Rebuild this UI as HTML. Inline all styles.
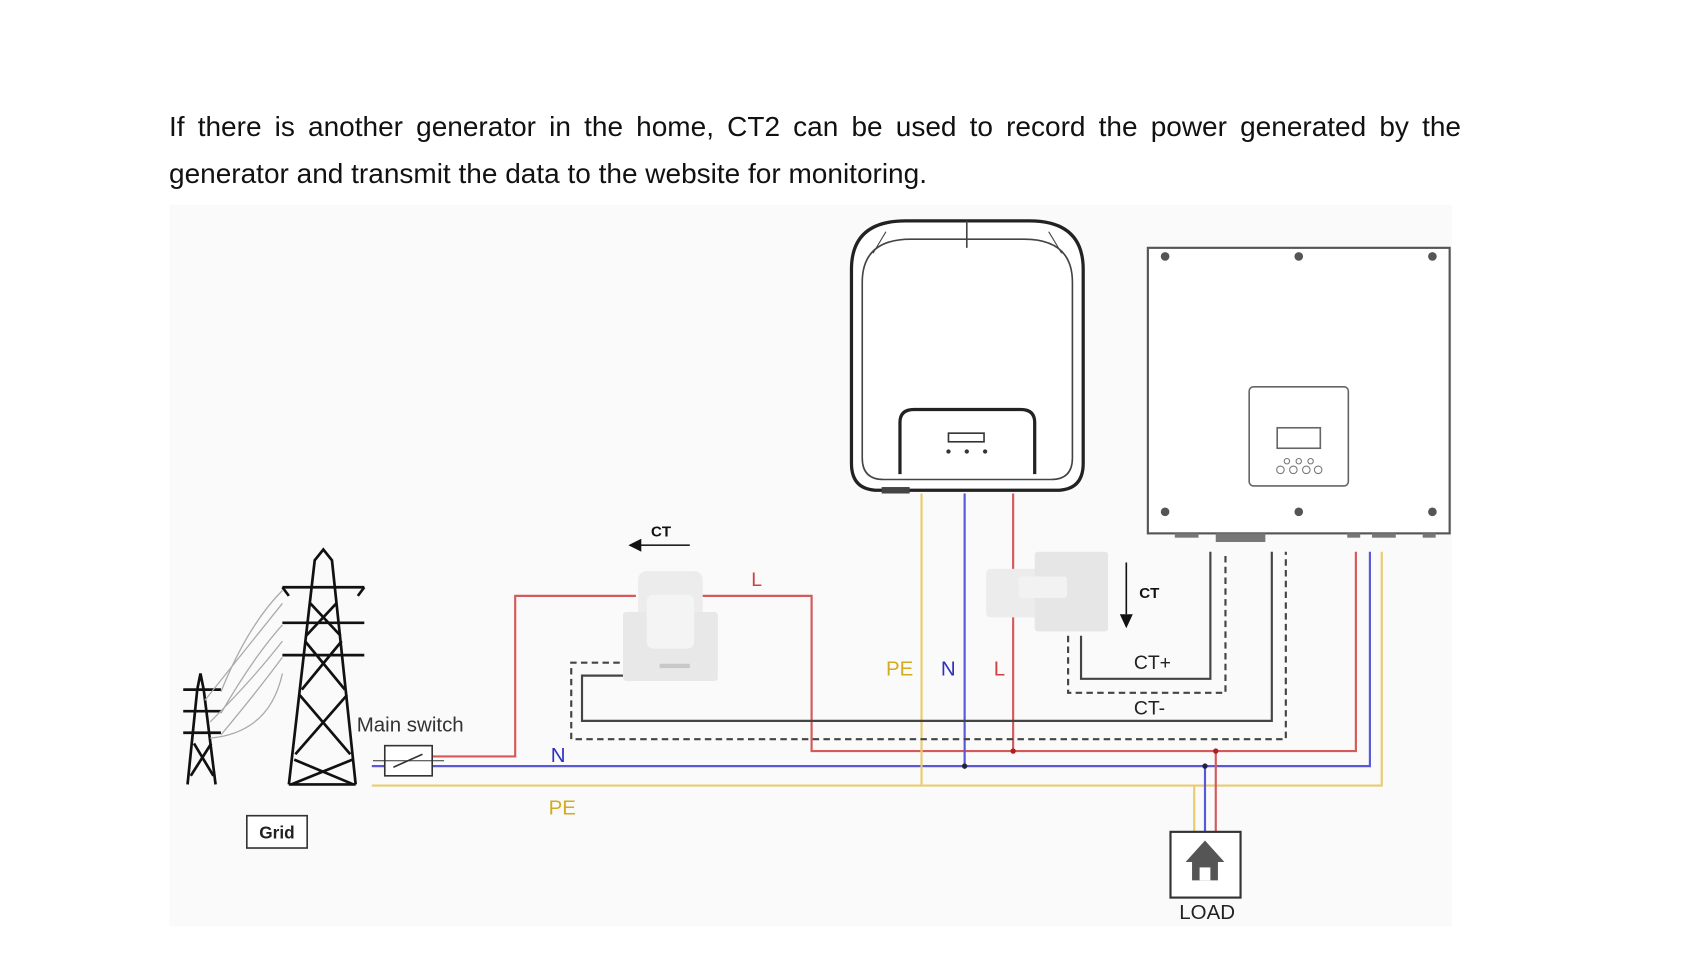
<!DOCTYPE html>
<html><head><meta charset="utf-8"><style>
html,body{margin:0;padding:0;background:#fff;width:1690px;height:959px;overflow:hidden;position:relative}
svg{display:block;position:absolute;left:0;top:0}
text{font-family:"Liberation Sans",Arial,sans-serif}
.t{position:absolute;left:169px;width:1292px;font-family:"Liberation Sans",Arial,sans-serif;font-size:28px;line-height:47px;color:#111;z-index:2;white-space:nowrap}
.j{text-align:justify;text-align-last:justify;white-space:normal}
</style></head><body>
<svg width="1690" height="959" viewBox="0 0 1568 890" preserveAspectRatio="none" xmlns="http://www.w3.org/2000/svg">
<rect width="1568" height="890" fill="#fff"/>
<rect x="157" y="190" width="1190" height="670" fill="#fafafa"/>

<!-- Inverter 1 -->
<path d="M790,250 Q790,205 840,205 L955,205 Q1005,205 1005,250 L1005,430 Q1005,455 980,455 L815,455 Q790,455 790,430 Z" fill="#fff" stroke="#222" stroke-width="3"/>
<path d="M800,262 Q800,222 845,222 L950,222 Q995,222 995,262 L995,425 Q995,445 975,445 L820,445 Q800,445 800,425 Z" fill="none" stroke="#444" stroke-width="1.5"/>
<line x1="897" y1="205" x2="897" y2="230" stroke="#444" stroke-width="1.5"/>
<line x1="810" y1="235" x2="822" y2="215" stroke="#444"/><line x1="985" y1="235" x2="973" y2="215" stroke="#444"/>
<path d="M835,440 L835,392 Q835,380 848,380 L947,380 Q960,380 960,392 L960,440" fill="#fff" stroke="#222" stroke-width="3"/>
<rect x="880" y="402" width="33" height="8" fill="none" stroke="#333" stroke-width="1.5"/>
<circle cx="880" cy="419" r="2" fill="#333"/><circle cx="897" cy="419" r="2" fill="#333"/><circle cx="914" cy="419" r="2" fill="#333"/>
<rect x="818" y="452" width="26" height="6" fill="#444"/>

<!-- Inverter 2 -->
<rect x="1065" y="230" width="280" height="265" fill="#fff" stroke="#555" stroke-width="2"/>
<g fill="#555"><circle cx="1081" cy="238" r="4"/><circle cx="1205" cy="238" r="4"/><circle cx="1329" cy="238" r="4"/>
<circle cx="1081" cy="475" r="4"/><circle cx="1205" cy="475" r="4"/><circle cx="1329" cy="475" r="4"/></g>
<rect x="1159" y="359" width="92" height="92" rx="4" fill="#fff" stroke="#666" stroke-width="1.5"/>
<rect x="1185" y="397" width="40" height="19" fill="none" stroke="#666" stroke-width="1.5"/>
<g fill="none" stroke="#777"><circle cx="1194" cy="428" r="2.5"/><circle cx="1205" cy="428" r="2.5"/><circle cx="1216" cy="428" r="2.5"/>
<circle cx="1188" cy="436" r="3.5"/><circle cx="1200" cy="436" r="3.5"/><circle cx="1212" cy="436" r="3.5"/><circle cx="1223" cy="436" r="3.5"/></g>
<g fill="#777"><rect x="1090" y="495" width="22" height="4"/><rect x="1128" y="495" width="46" height="8"/><rect x="1250" y="495" width="12" height="4"/><rect x="1273" y="495" width="22" height="4"/><rect x="1320" y="495" width="12" height="4"/></g>

<!-- wires -->
<g fill="none" stroke-width="2">
<polyline points="401,702 478,702 478,553 590,553" stroke="#d45a5a"/>
<polyline points="650,553 753,553 753,697 1258,697 1258,512" stroke="#d45a5a"/>
<polyline points="345,711 1271,711 1271,512" stroke="#5858d8"/>
<polyline points="345,729 1282,729 1282,512" stroke="#e8cc70"/>
<line x1="855" y1="458" x2="855" y2="729" stroke="#e8cc70"/>
<line x1="895" y1="458" x2="895" y2="711" stroke="#5858d8"/>
<line x1="940" y1="458" x2="940" y2="697" stroke="#d45a5a"/>
<line x1="1108" y1="729" x2="1108" y2="772" stroke="#e8cc70"/>
<line x1="1118" y1="711" x2="1118" y2="772" stroke="#5858d8"/>
<line x1="1128" y1="697" x2="1128" y2="772" stroke="#d45a5a"/>
<polyline points="578,627 540,627 540,669 1180,669 1180,512" stroke="#444"/>
<polyline points="1003,590 1003,630 1123,630 1123,512" stroke="#444"/>
<polyline points="575,615 530,615 530,686 1193,686 1193,512" stroke="#444" stroke-dasharray="6,4"/>
<polyline points="991,590 991,643 1137,643 1137,512" stroke="#444" stroke-dasharray="6,4"/>
</g>
<circle cx="895" cy="711" r="2.5" fill="#224"/><circle cx="940" cy="697" r="2.5" fill="#a22"/><circle cx="1118" cy="711" r="2.5" fill="#224"/><circle cx="1128" cy="697" r="2.5" fill="#a22"/>

<!-- CT1 clamp -->
<rect x="592" y="530" width="60" height="75" rx="8" fill="#ececec"/>
<rect x="578" y="568" width="88" height="64" rx="3" fill="#e8e8e8"/>
<rect x="600" y="552" width="44" height="50" rx="6" fill="#f4f4f4"/>
<path d="M640,618 L612,618" stroke="#c8c8c8" stroke-width="4"/>
<line x1="592" y1="506" x2="640" y2="506" stroke="#222" stroke-width="1.5"/>
<polygon points="583,506 595,500 595,512" fill="#111"/>
<text x="604" y="498" font-size="14" font-weight="bold" fill="#111">CT</text>
<text x="697" y="544" font-size="18" fill="#d04040">L</text>

<!-- CT2 clamp -->
<rect x="915" y="528" width="50" height="45" rx="4" fill="#ececec"/>
<rect x="960" y="512" width="68" height="74" rx="3" fill="#e6e6e6"/>
<rect x="945" y="535" width="45" height="20" rx="3" fill="#f2f2f2"/>
<line x1="1045" y1="522" x2="1045" y2="570" stroke="#111" stroke-width="1.5"/>
<polygon points="1045,583 1039,570 1051,570" fill="#111"/>
<text x="1057" y="555" font-size="14" font-weight="bold" fill="#111">CT</text>

<text x="822" y="627" font-size="19" fill="#d4aa20">PE</text>
<text x="873" y="627" font-size="19" fill="#3030c0">N</text>
<text x="922" y="627" font-size="19" fill="#d04040">L</text>
<text x="1052" y="621" font-size="18" fill="#222">CT+</text>
<text x="1052" y="663" font-size="18" fill="#222">CT-</text>
<text x="511" y="707" font-size="19" fill="#3030c0">N</text>
<text x="509" y="756" font-size="19" fill="#d4aa20">PE</text>

<text x="331" y="679" font-size="19" fill="#333">Main switch</text>
<rect x="357" y="692" width="44" height="28" fill="#fff" stroke="#333" stroke-width="1.5"/>
<line x1="346" y1="706" x2="412" y2="706" stroke="#333"/>
<line x1="365" y1="712" x2="392" y2="700" stroke="#333" stroke-width="1.5"/>

<!-- towers -->
<g stroke="#111" fill="none" stroke-width="2.5">
<polyline points="268,728 292,520 300,510 308,520 330,728"/>
<line x1="268" y1="728" x2="330" y2="728"/>
<polyline points="262,545 338,545"/><polyline points="262,578 338,578"/><polyline points="262,608 338,608"/>
<polyline points="262,545 268,553"/><polyline points="338,545 332,553"/>
<path d="M288,560 L316,590 M312,560 L284,590 M283,595 L320,640 M317,595 L280,640 M278,645 L325,700 M322,645 L274,700 M273,705 L328,728 M327,705 L270,728"/>
<polyline points="174,728 183,640 186,625 189,640 200,728"/>
<line x1="170" y1="640" x2="205" y2="640"/><line x1="170" y1="660" x2="205" y2="660"/><line x1="170" y1="680" x2="205" y2="680"/>
<path d="M180,690 L198,720 M196,690 L177,720"/>
</g>
<g stroke="#aaa" fill="none" stroke-width="1.2">
<path d="M205,642 Q230,580 262,548"/><path d="M205,662 Q235,610 262,580"/><path d="M205,682 Q240,640 262,610"/>
<path d="M190,650 Q230,600 262,560"/><path d="M195,670 Q235,630 262,595"/><path d="M195,685 Q250,680 262,625"/>
</g>

<rect x="229" y="757" width="56" height="30" fill="#fff" stroke="#333" stroke-width="1.5"/>
<text x="257" y="778" font-size="16" font-weight="bold" fill="#222" text-anchor="middle">Grid</text>

<rect x="1086" y="772" width="65" height="61" fill="#fff" stroke="#333" stroke-width="2"/>
<polygon points="1118,780 1100,800 1106,800 1106,817 1130,817 1130,800 1136,800" fill="#555"/>
<rect x="1113" y="805" width="10" height="12" fill="#fff"/>
<text x="1120" y="853" font-size="19" fill="#222" text-anchor="middle">LOAD</text>
</svg>
<div class="t j" style="top:103px">If there is another generator in the home, CT2 can be used to record the power generated by the</div>
<div class="t" style="top:150px">generator and transmit the data to the website for monitoring.</div>
</body></html>
